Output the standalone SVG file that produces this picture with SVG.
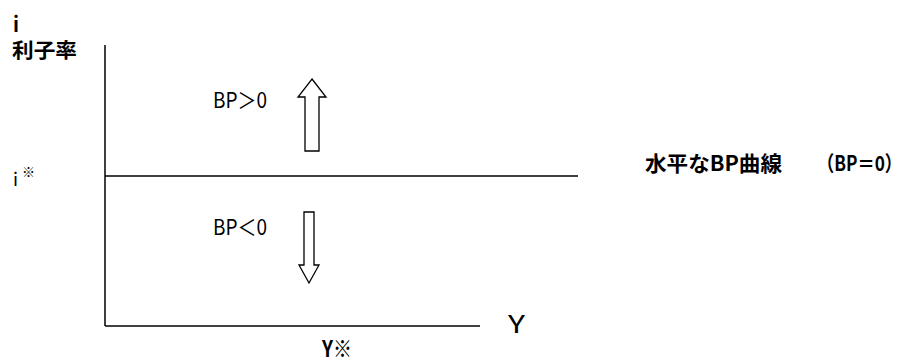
<svg xmlns="http://www.w3.org/2000/svg" width="905" height="360" viewBox="0 0 905 360">
<style>
.t{font-family:"Noto Sans CJK JP","DejaVu Sans",sans-serif;fill:#000}
.b{font-weight:bold}
.ln{stroke:#000;stroke-width:1.5;fill:none}
.ar{stroke:#000;stroke-width:1.3;fill:#fff}
</style>
<rect width="905" height="360" fill="#fff"/>
<g id="axes">
<line class="ln" x1="105" y1="45" x2="105" y2="326"/>
<line class="ln" x1="105" y1="326" x2="480" y2="326"/>
</g>
<g id="connectors">
<line class="ln" x1="105" y1="176" x2="578" y2="176"/>
<polygon id="arrow-up" class="ar" points="312,79 326,97 319,97 319,151 305,151 305,97 298,97"/>
<polygon id="arrow-down" class="ar" points="304,212 314,212 314,265 319,265 309,283 299,265 304,265"/>
</g>
<g id="label-i">
<text class="t b" x="13" y="32" font-size="21" textLength="6" lengthAdjust="spacingAndGlyphs">i</text>
<text class="t b" x="12" y="58" font-size="20" textLength="65" lengthAdjust="spacingAndGlyphs">利子率</text>
</g>
<g id="label-istar">
<text class="t" x="13" y="186" font-size="18" textLength="5" lengthAdjust="spacingAndGlyphs">i</text>
<text class="t" x="22" y="177" font-size="14" textLength="13" lengthAdjust="spacingAndGlyphs">※</text>
</g>
<g id="label-bp-pos">
<text class="t" x="213" y="108" font-size="22" textLength="54" lengthAdjust="spacingAndGlyphs">BP＞0</text>
</g>
<g id="label-bp-neg">
<text class="t" x="213" y="235" font-size="22" textLength="54" lengthAdjust="spacingAndGlyphs">BP＜0</text>
</g>
<g id="label-bp-curve">
<text class="t b" x="645" y="171" font-size="21" textLength="137" lengthAdjust="spacingAndGlyphs">水平なBP曲線</text>
<text class="t b" x="817" y="171" font-size="21" textLength="85" lengthAdjust="spacingAndGlyphs">（BP＝0）</text>
</g>
<g id="label-y">
<text class="t" x="508" y="333" font-size="24" textLength="17" lengthAdjust="spacingAndGlyphs">Y</text>
</g>
<g id="label-ystar">
<text class="t b" x="322" y="357" font-size="23" textLength="30" lengthAdjust="spacingAndGlyphs">Y※</text>
</g>
</svg>
